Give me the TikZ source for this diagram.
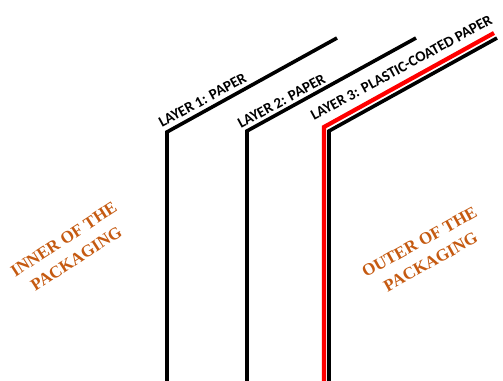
\documentclass[tikz,border=0pt]{standalone}
\usepackage{fontspec}
\setmainfont{Carlito}
\newfontfamily\serifb{Liberation Serif}
\definecolor{orng}{RGB}{197,90,17}
\definecolor{redl}{RGB}{255,0,0}
\begin{document}
\begin{tikzpicture}[x=1pt,y=-1pt,
  layerline/.style={line width=3.6pt, line join=miter},
  lbl/.style={font=\bfseries\fontsize{15}{17}\selectfont, rotate=28.5, anchor=south west, inner sep=0pt},
  side/.style={font=\serifb\bfseries\fontsize{17}{23}\selectfont, text=orng, align=center, inner sep=0pt}]
\useasboundingbox (0,0) rectangle (503,380);
% layer 1
\coordinate (a0) at (167,382);
\coordinate (a1) at (167,132);
\coordinate (a2) at (337,38);
\draw[layerline] (a0) -- (a1) -- (a2);
% layer 2
\coordinate (b0) at (247,382);
\coordinate (b1) at (247,131);
\coordinate (b2) at (416,38);
\draw[layerline] (b0) -- (b1) -- (b2);
% layer 3
\coordinate (c0) at (329,382);
\coordinate (c1) at (329,131);
\coordinate (c2) at (497,38);
\draw[layerline] (c0) -- (c1) -- (c2);
\coordinate (d0) at (324,382);
\coordinate (d1) at (324,127);
\coordinate (d2) at (494,33);
\draw[layerline, redl, line width=4.2pt] (d0) -- (d1) -- (d2);
% labels
\node[lbl] (l1) at (162,128) {LAYER 1: PAPER};
\node[lbl] (l2) at (241,129) {LAYER 2: PAPER};
\node[lbl] (l3) at (314,121) {LAYER 3: PLASTIC-COATED PAPER};
\node[side, rotate=33] (inner) at (70,249) {INNER OF THE\\PACKAGING};
\node[side, rotate=29] (outer) at (425,252) {OUTER OF THE\\PACKAGING};
\end{tikzpicture}
\end{document}
